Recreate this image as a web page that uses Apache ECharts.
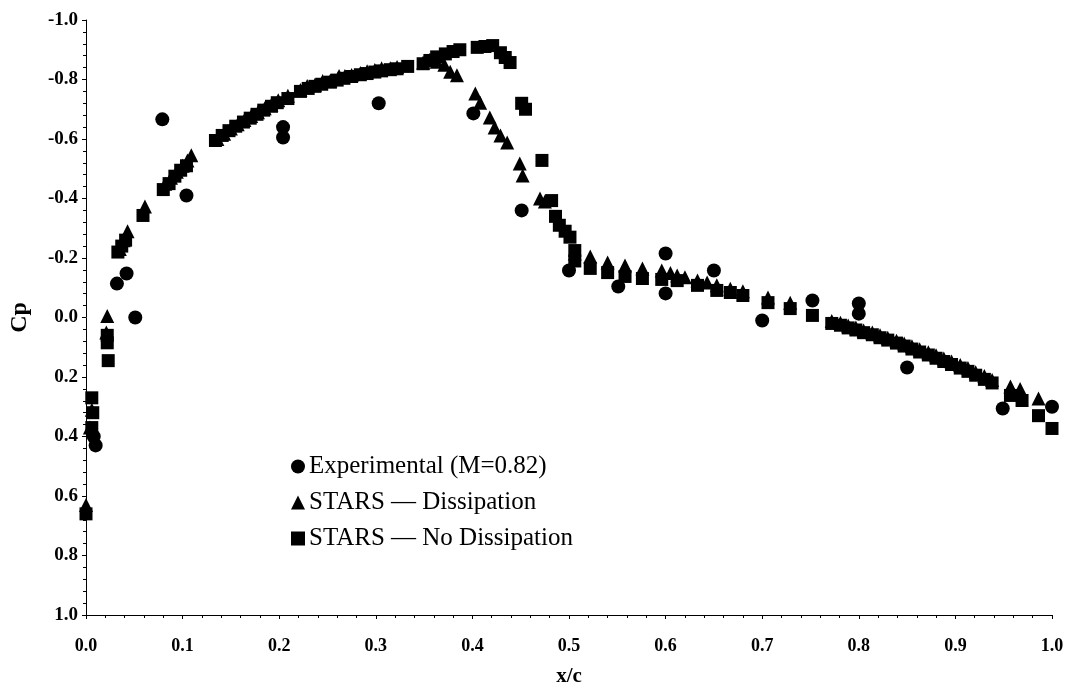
<!DOCTYPE html>
<html>
<head>
<meta charset="utf-8">
<script src="https://cdn.jsdelivr.net/npm/echarts@6/dist/echarts.min.js"></script>
<style>
  html, body { margin: 0; padding: 0; background: #fff; }
  #chart { width: 1071px; height: 684px; }
</style>
</head>
<body>
<div id="chart"></div>
<script>
// experimental points (M=0.82)
const expX = [0.008, 0.010, 0.032, 0.042, 0.051, 0.079, 0.104, 0.204, 0.204, 0.303, 0.401, 0.451,
  0.500, 0.551, 0.600, 0.600, 0.650, 0.700, 0.752, 0.800, 0.800, 0.850, 0.949, 1.000]
const expCp = [0.40, 0.43, -0.114, -0.148, 0.0, -0.666, -0.41, -0.64, -0.605, -0.72, -0.686, -0.36,
  -0.158, -0.104, -0.215, -0.081, -0.158, 0.01, -0.057, -0.047, -0.013, 0.168, 0.306, 0.30]

// STARS with dissipation
const dissX = [0.000, 0.004, 0.006, 0.021, 0.022, 0.035, 0.039, 0.043, 0.061, 0.082, 0.088, 0.094, 0.100, 0.105, 0.109,
  0.136, 0.143, 0.150, 0.157, 0.164, 0.171, 0.178, 0.185, 0.192, 0.199, 0.209,
  0.222, 0.229, 0.237, 0.245, 0.253, 0.262, 0.268, 0.275, 0.284, 0.291, 0.299, 0.306, 0.315, 0.322,
  0.349, 0.356, 0.363, 0.371, 0.377, 0.384,
  0.403, 0.408, 0.418, 0.423, 0.429, 0.436, 0.449, 0.452, 0.470, 0.475, 0.506, 0.522,
  0.540, 0.558, 0.576, 0.596, 0.605, 0.612, 0.620, 0.633, 0.643, 0.653, 0.667, 0.680, 0.706, 0.729, 0.772,
  0.781, 0.789, 0.797, 0.805, 0.814, 0.822, 0.830, 0.839, 0.847, 0.855, 0.863, 0.872, 0.880, 0.888, 0.896,
  0.905, 0.913, 0.921, 0.930, 0.938, 0.957, 0.967, 0.986]
const dissCp = [0.63, 0.37, 0.31, 0.05, -0.005, -0.23, -0.26, -0.29, -0.373, -0.45, -0.47, -0.49, -0.51, -0.528, -0.545,
  -0.60, -0.618, -0.635, -0.65, -0.664, -0.677, -0.69, -0.703, -0.716, -0.73, -0.745,
  -0.765, -0.778, -0.782, -0.795, -0.797, -0.812, -0.812, -0.815, -0.822, -0.828, -0.832, -0.838, -0.838, -0.842,
  -0.857, -0.866, -0.86, -0.85, -0.826, -0.814,
  -0.753, -0.722, -0.672, -0.639, -0.612, -0.588, -0.518, -0.477, -0.40, -0.39, -0.215, -0.205,
  -0.185, -0.175, -0.165, -0.158, -0.15, -0.141, -0.135, -0.124, -0.118, -0.108, -0.097, -0.088, -0.067, -0.05, 0.012,
  0.018, 0.027, 0.034, 0.044, 0.050, 0.060, 0.068, 0.078, 0.087, 0.097, 0.107, 0.117, 0.127, 0.138, 0.148,
  0.160, 0.170, 0.184, 0.197, 0.210, 0.232, 0.240, 0.272]

// STARS without dissipation
const noDissX = [0.000, 0.006, 0.007, 0.006, 0.022, 0.022, 0.023, 0.033, 0.037, 0.041, 0.059, 0.080, 0.086, 0.092, 0.098, 0.104,
  0.134, 0.141, 0.148, 0.155, 0.163, 0.170, 0.177, 0.184, 0.192, 0.198, 0.209,
  0.222, 0.230, 0.237, 0.244, 0.253, 0.260, 0.267, 0.275, 0.284, 0.291, 0.299, 0.306, 0.315, 0.322, 0.333,
  0.349, 0.356, 0.363, 0.372, 0.380, 0.387, 0.405, 0.413, 0.421, 0.429, 0.434, 0.439,
  0.451, 0.455, 0.472, 0.482, 0.486, 0.490, 0.496, 0.501, 0.506, 0.506, 0.522,
  0.540, 0.558, 0.576, 0.596, 0.612, 0.633, 0.653, 0.667, 0.680, 0.706, 0.729, 0.752, 0.772,
  0.781, 0.789, 0.797, 0.805, 0.814, 0.822, 0.830, 0.839, 0.847, 0.855, 0.863, 0.872, 0.880, 0.888, 0.896,
  0.905, 0.913, 0.921, 0.930, 0.938, 0.957, 0.969, 0.986, 1.000]
const noDissCp = [0.66, 0.27, 0.32, 0.37, 0.06, 0.085, 0.145, -0.22, -0.24, -0.26, -0.343, -0.43, -0.45, -0.475, -0.495, -0.51,
  -0.595, -0.612, -0.628, -0.643, -0.657, -0.670, -0.683, -0.697, -0.71, -0.722, -0.736,
  -0.760, -0.770, -0.777, -0.784, -0.791, -0.798, -0.804, -0.810, -0.816, -0.820, -0.825, -0.829, -0.833, -0.836, -0.844,
  -0.853, -0.864, -0.876, -0.886, -0.894, -0.900, -0.908, -0.911, -0.914, -0.89, -0.874, -0.857,
  -0.72, -0.70, -0.528, -0.393, -0.34, -0.31, -0.29, -0.27, -0.225, -0.19, -0.165,
  -0.151, -0.138, -0.131, -0.128, -0.124, -0.108, -0.091, -0.084, -0.074, -0.05, -0.03, -0.007, 0.02,
  0.026, 0.035, 0.042, 0.051, 0.058, 0.068, 0.076, 0.086, 0.096, 0.106, 0.116, 0.126, 0.137, 0.148, 0.158,
  0.170, 0.181, 0.194, 0.208, 0.22, 0.262, 0.279, 0.33, 0.373]

const seriesNames = ['Experimental (M=0.82)', 'STARS \u2014 Dissipation', 'STARS \u2014 No Dissipation']

const pairs = (xs, ys) => xs.map((x, i) => [x, ys[i]])
const serif = '"Liberation Serif", "Times New Roman", serif'

const chart = echarts.init(document.getElementById('chart'))
chart.setOption({
    animation: false,
    grid: {left: 86, right: 19, top: 20, bottom: 69, containLabel: false, outerBoundsMode: 'none'},
    legend: {
        orient: 'vertical',
        left: 286,
        top: 449,
        itemWidth: 14,
        itemHeight: 14,
        itemGap: 11,
        data: seriesNames,
        textStyle: {fontFamily: serif, fontSize: 25, color: '#000', padding: [0, 0, 0, -1]}
    },
    xAxis: {
        type: 'value',
        min: 0,
        max: 1,
        interval: 0.1,
        name: 'x/c',
        nameLocation: 'middle',
        nameGap: 51,
        nameTextStyle: {fontFamily: serif, fontSize: 21, fontWeight: 'bold', color: '#000'},
        axisLine: {onZero: false, lineStyle: {color: '#000', width: 1}},
        axisTick: {show: true, inside: false, length: 4, lineStyle: {color: '#000'}},
        minorTick: {show: true, splitNumber: 5, length: 3, lineStyle: {color: '#000'}},
        splitLine: {show: false},
        axisLabel: {
            margin: 22,
            fontFamily: serif, fontSize: 18, fontWeight: 'bold', color: '#000',
            formatter: v => v.toFixed(1)
        }
    },
    yAxis: {
        type: 'value',
        inverse: true,
        min: -1,
        max: 1,
        interval: 0.2,
        name: 'Cp',
        nameLocation: 'middle',
        nameGap: 54,
        nameTextStyle: {fontFamily: serif, fontSize: 24, fontWeight: 'bold', color: '#000'},
        axisLine: {show: true, onZero: false, lineStyle: {color: '#000', width: 1}},
        axisTick: {show: true, inside: false, length: 4, lineStyle: {color: '#000'}},
        minorTick: {show: true, splitNumber: 5, length: 3, lineStyle: {color: '#000'}},
        splitLine: {show: false},
        axisLabel: {
            margin: 8,
            fontFamily: serif, fontSize: 19, fontWeight: 'bold', color: '#000',
            formatter: v => v.toFixed(1)
        }
    },
    series: [
        {
            name: seriesNames[0],
            type: 'scatter',
            symbol: 'circle',
            symbolSize: 14,
            itemStyle: {color: '#000', opacity: 1},
            data: pairs(expX, expCp)
        },
        {
            name: seriesNames[1],
            type: 'scatter',
            symbol: 'triangle',
            symbolSize: 14,
            itemStyle: {color: '#000', opacity: 1},
            data: pairs(dissX, dissCp)
        },
        {
            name: seriesNames[2],
            type: 'scatter',
            symbol: 'rect',
            symbolSize: 13,
            itemStyle: {color: '#000', opacity: 1},
            data: pairs(noDissX, noDissCp)
        }
    ]
})
</script>
</body>
</html>
